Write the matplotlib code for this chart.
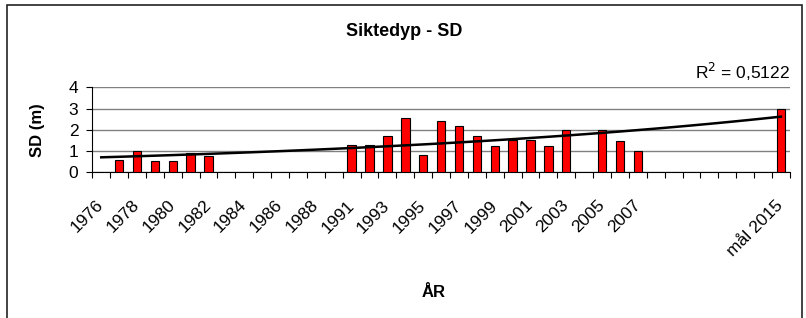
import matplotlib
matplotlib.use("Agg")
import matplotlib.pyplot as plt
from matplotlib.patches import Rectangle
import numpy as np

plt.rcParams['font.family'] = ['Liberation Sans', 'DejaVu Sans']

# years on the category axis (blank categories after 2007, then the target)
years = ["1976", "1977", "1978", "1979", "1980", "1981", "1982", "1983",
         "1984", "1985", "1986", "1987", "1988", "1990", "1991", "1992",
         "1993", "1994", "1995", "1996", "1997", "1998", "1999", "2000",
         "2001", "2002", "2003", "2004", "2005", "2006", "2007",
         "", "", "", "", "", "", "", "mål 2015"]

nan = np.nan
sd = [nan, 0.6, 1.0, 0.55, 0.55, 0.9, 0.75, nan,
      nan, nan, nan, nan, nan, nan, 1.3, 1.3,
      1.7, 2.55, 0.8, 2.4, 2.2, 1.7, 1.25, 1.5,
      1.5, 1.25, 2.0, nan, 2.0, 1.45, 1.0,
      nan, nan, nan, nan, nan, nan, nan, 3.0]

r2_text = "R$^2$ = 0,5122"

x = np.arange(len(years))
y = np.array(sd, dtype=float)

fig = plt.figure(figsize=(8.06, 3.18), dpi=100)
ax = fig.add_axes([0.1145, 0.4582, 0.9800 - 0.1145, 0.7255 - 0.4582])

ax.bar(x, y, 0.47, color="#ff0000", edgecolor="black", linewidth=0.8, zorder=3)

# exponential trend line (Excel style)
ok = ~np.isnan(y)
b, a = np.polyfit(x[ok], np.log(y[ok]), 1)
ax.plot(x, np.exp(a + b * x), color="black", linewidth=1.8, zorder=4)

ax.set_xlim(-0.5, len(years) - 0.5)
ax.set_ylim(0, 4)
ax.set_yticks([0, 1, 2, 3, 4])
ax.grid(axis="y", color="#808080", linewidth=1.0, zorder=0)

ax.set_xticks(x[::2])
ax.set_xticklabels(years[::2], rotation=45, ha="right", va="center",
                   rotation_mode="anchor", fontsize=12.5)
ax.set_xticks(np.arange(-0.5, len(years)), minor=True)
ax.tick_params(axis="x", which="major", length=0, pad=22)
ax.tick_params(axis="x", which="minor", length=4, width=0.8, direction="out")
ax.tick_params(axis="y", length=4, width=0.8, labelsize=12.5, pad=6)

for s in ["top", "right"]:
    ax.spines[s].set_visible(False)
ax.spines["left"].set_linewidth(0.8)
ax.spines["bottom"].set_linewidth(0.8)

ax.set_ylabel("SD (m)", fontsize=12, fontweight="bold", labelpad=17)
ax.set_xlabel("ÅR", fontsize=12, fontweight="bold")
ax.xaxis.set_label_coords(0.49, -1.33)

fig.text(0.501, 0.90, "Siktedyp - SD", ha="center", va="center",
         fontsize=13, fontweight="bold")
fig.text(0.980, 0.774, r2_text, ha="right", va="center", fontsize=12.5)

fig.patches.append(Rectangle((0.0083, -0.02), 0.9864, 0.9843 + 0.02,
                             transform=fig.transFigure, fill=False,
                             edgecolor="#222222", linewidth=1.2))

fig.savefig("out.png", dpi=100)
